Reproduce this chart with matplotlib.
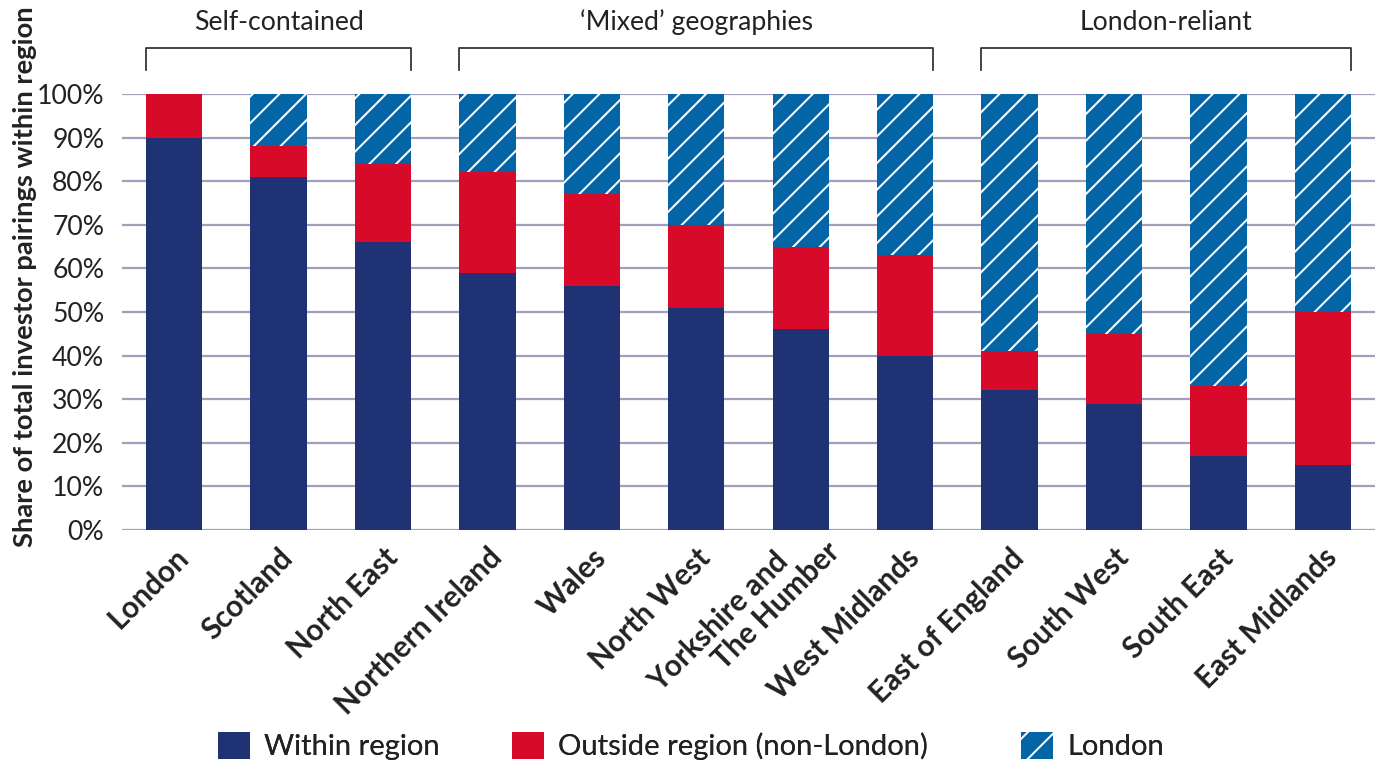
import matplotlib
matplotlib.use("Agg")
import matplotlib.pyplot as plt
import matplotlib.transforms as mtransforms
import numpy as np

# ---- data ----
regions = ["London", "Scotland", "North East", "Northern Ireland", "Wales",
           "North West", "Yorkshire and\nThe Humber", "West Midlands",
           "East of England", "South West", "South East", "East Midlands"]
within_region = [90, 81, 66, 59, 56, 51, 46, 40, 32, 29, 17, 15]
outside_region = [10, 7, 18, 23, 21, 19, 19, 23, 9, 16, 16, 35]
london = [0, 12, 16, 18, 23, 30, 35, 37, 59, 55, 67, 50]
y_ticks = [0, 10, 20, 30, 40, 50, 60, 70, 80, 90, 100]
groups = ["Self-contained", "\u2018Mixed\u2019 geographies", "London-reliant"]
group_members = [[0, 1, 2], [3, 4, 5, 6, 7], [8, 9, 10, 11]]
series_names = ["Within region", "Outside region (non-London)", "London"]

# ---- style ----
NAVY = "#1e3274"
RED = "#d80a29"
BLUE = "#0465a6"
GRID = "#a29ebb"
TXT = "#222222"

plt.rcParams['font.family'] = ['Lato', 'DejaVu Sans']
plt.rcParams['hatch.linewidth'] = 0.9

DPI = 160
W_PX, H_PX = 1375, 764
fig = plt.figure(figsize=(W_PX / DPI, H_PX / DPI), dpi=DPI)
ax = fig.add_axes([122 / W_PX, 1 - 530 / H_PX, 1 - 122 / W_PX, (530 - 94) / H_PX])

x = np.arange(len(regions))
w = 0.54
within = np.array(within_region)
outside = np.array(outside_region)
lon = np.array(london)

b1 = ax.bar(x, within, w, color=NAVY, linewidth=0, label=series_names[0], zorder=3)
b2 = ax.bar(x, outside, w, bottom=within, color=RED, linewidth=0,
            label=series_names[1], zorder=3)
b3 = ax.bar(x, lon, w, bottom=within + outside, facecolor=BLUE, edgecolor="white",
            hatch="//", linewidth=0, label=series_names[2], zorder=3)

ax.set_xlim(-0.5, len(regions) - 0.5)
ax.set_ylim(0, 100)
ax.set_yticks(y_ticks)
ax.set_yticklabels([f"{t}%" for t in y_ticks], fontsize=12, color=TXT)
ax.yaxis.grid(True, color=GRID, linewidth=1.0, zorder=0)
ax.set_axisbelow(True)
for s in ax.spines.values():
    s.set_visible(False)
ax.tick_params(axis="y", length=0, pad=8)
ax.tick_params(axis="x", length=0, pad=6)

# two-line label: first line set back a little, as in the original layout
tick_text = [r.replace("\n", "      \n") for r in regions]
ax.set_xticks(x)
labels = ax.set_xticklabels(tick_text, rotation=45, ha="right",
                            rotation_mode="anchor", fontsize=13.4,
                            fontweight="bold", color=TXT,
                            multialignment="right", linespacing=1.05)
for lbl, r in zip(labels, regions):
    if "\n" in r:
        lbl.set_transform(lbl.get_transform() + mtransforms.ScaledTranslation(
            4 / DPI, 27 / DPI, fig.dpi_scale_trans))

ax.set_ylabel("Share of total investor pairings within region", fontsize=12.3,
              fontweight="bold", color=TXT)
ax.yaxis.set_label_coords(-0.068, 0.58)

# group brackets
trans = mtransforms.blended_transform_factory(ax.transData, ax.transAxes)
y_top = (530 - 48) / 436
y_bot = (530 - 70) / 436
y_txt = (530 - 22) / 436
for name, members in zip(groups, group_members):
    x0 = x[members[0]] - w / 2
    x1 = x[members[-1]] + w / 2
    ax.plot([x0, x0, x1, x1], [y_bot, y_top, y_top, y_bot], color="#333333",
            linewidth=0.8, transform=trans, clip_on=False)
    ax.text((x0 + x1) / 2, y_txt, name, transform=trans, ha="center",
            va="center", fontsize=12, color=TXT)

# legend: three entries placed like the original
leg_left_px = [218, 512, 1021]
for h, lab, lx in zip([b1, b2, b3], series_names, leg_left_px):
    lg = fig.legend([h], [lab], loc="center left",
                    bbox_to_anchor=(lx / W_PX, 1 - 746 / H_PX),
                    frameon=False, fontsize=13.1, handlelength=1.1,
                    handleheight=1.07, handletextpad=0.48, borderpad=0,
                    borderaxespad=0, labelcolor=TXT)
    fig.add_artist(lg)

fig.savefig("out.png", dpi=DPI)
